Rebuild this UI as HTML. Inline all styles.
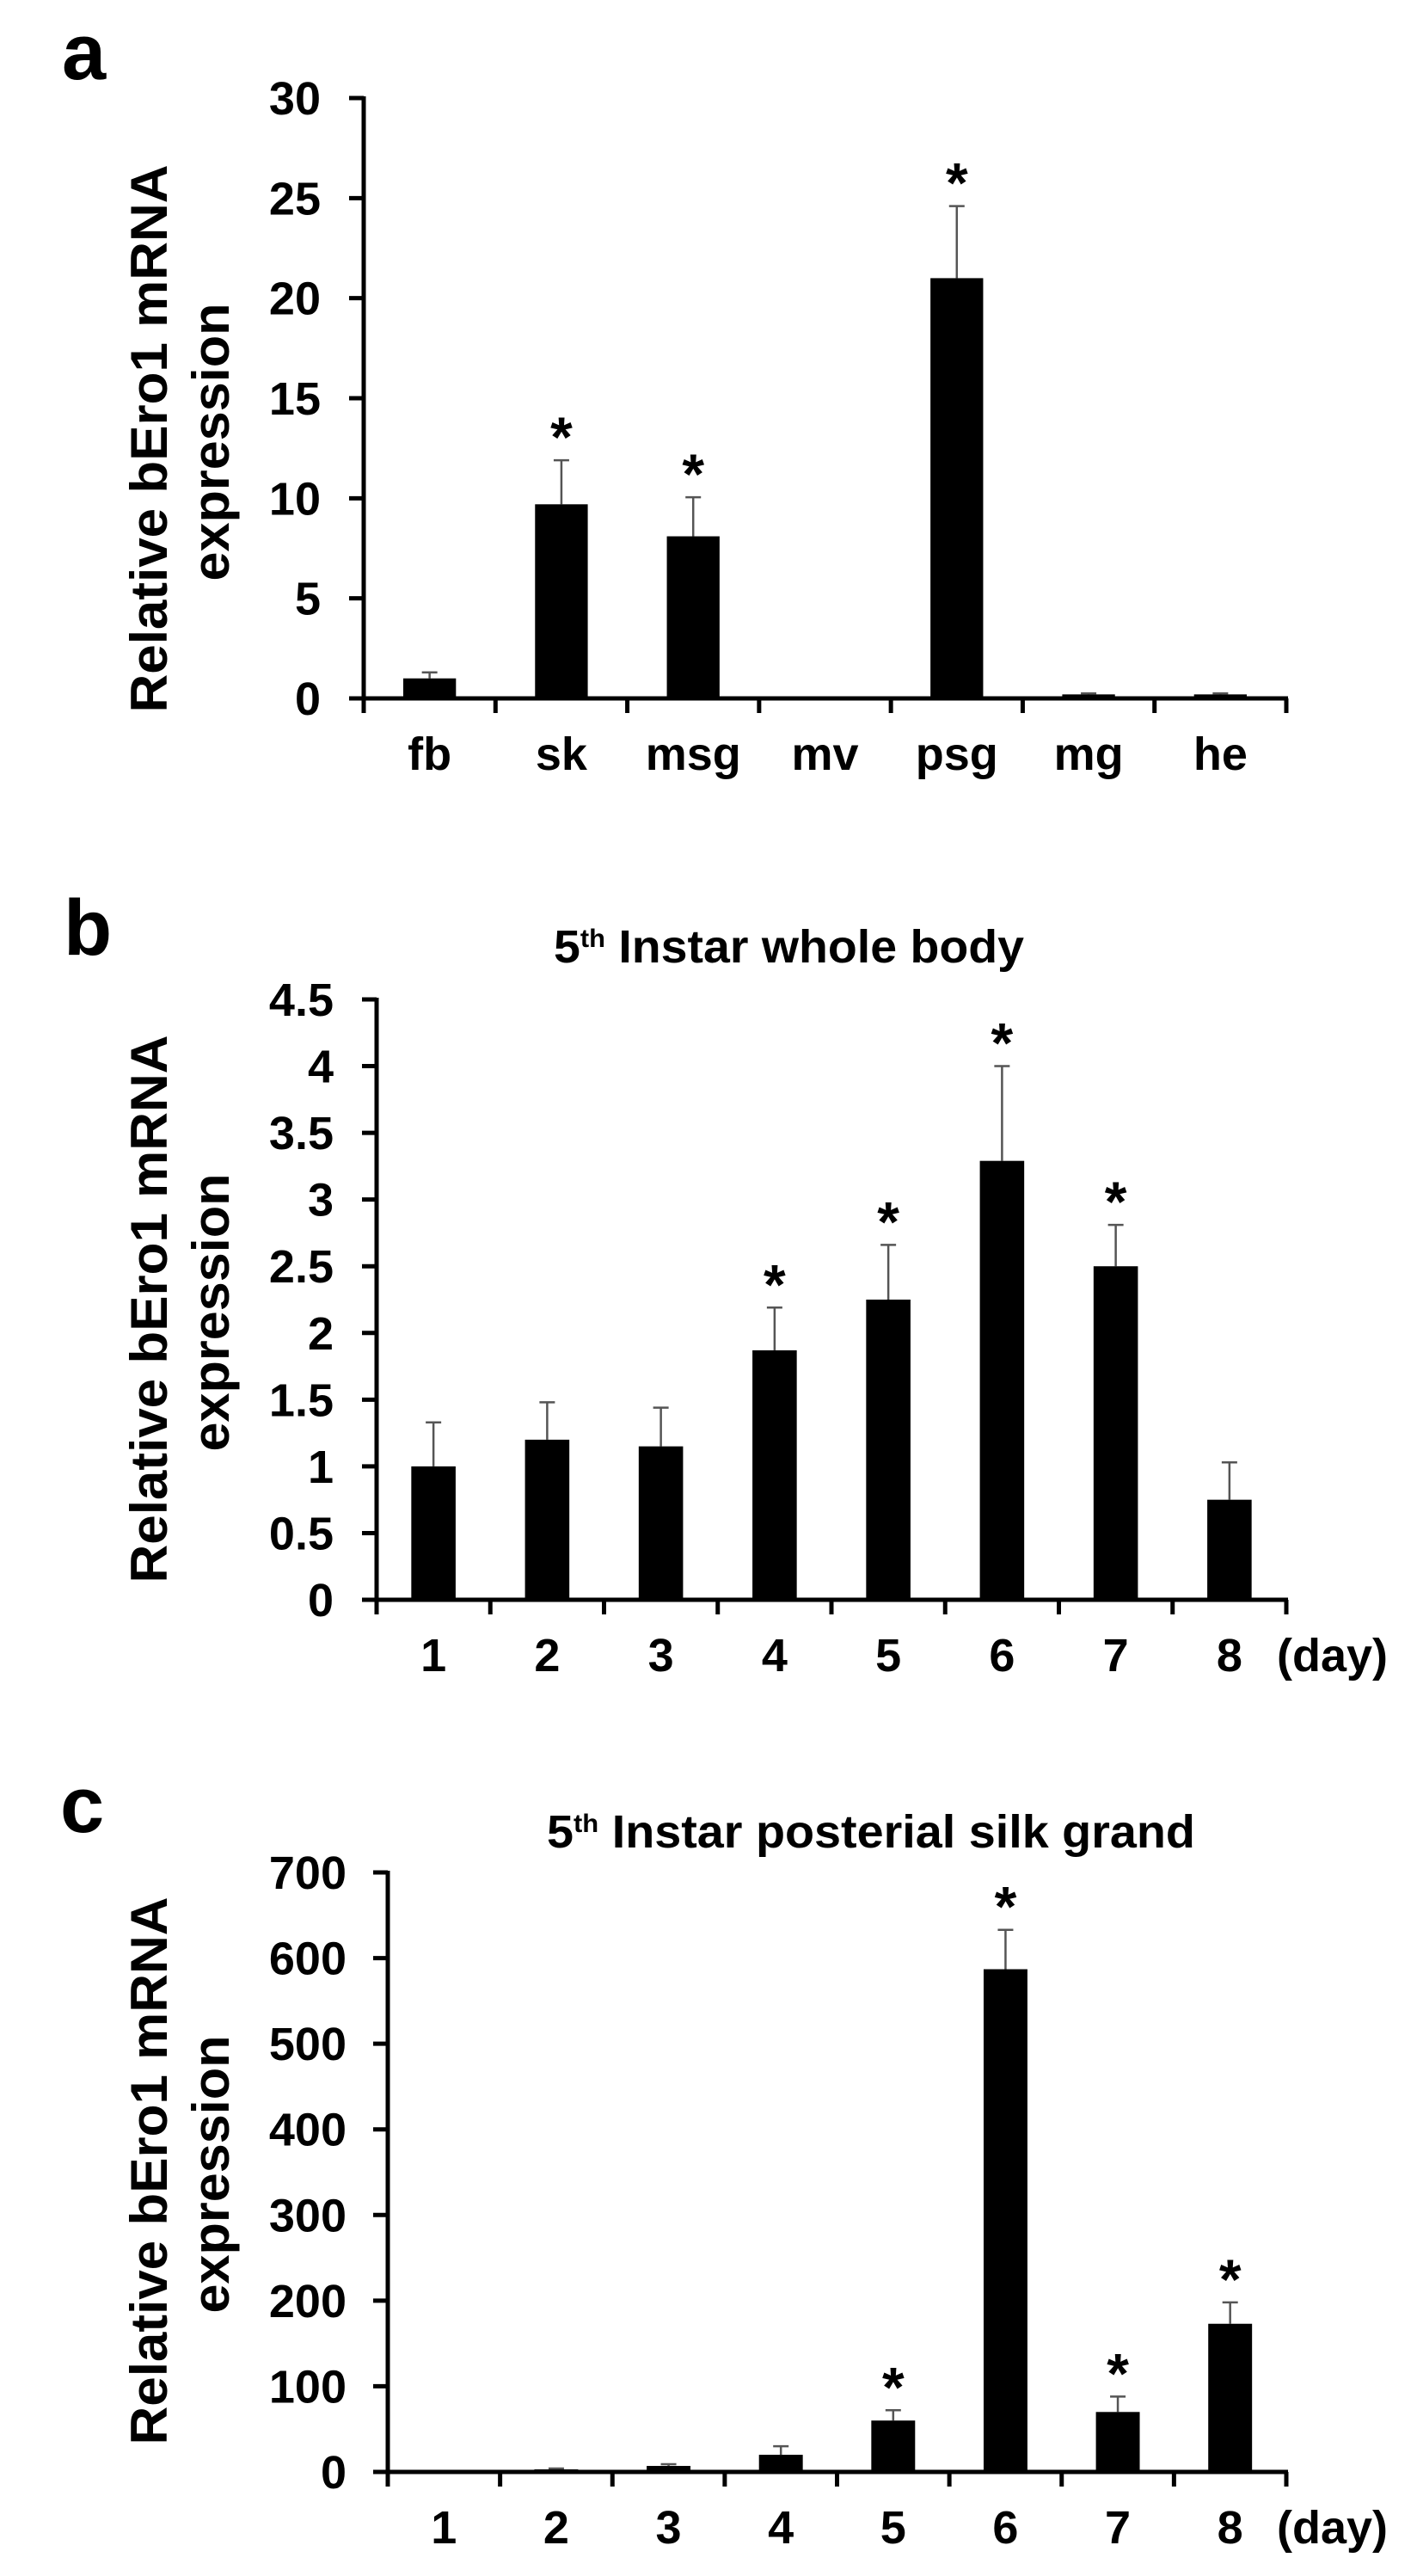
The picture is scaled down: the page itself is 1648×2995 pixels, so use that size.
<!DOCTYPE html>
<html><head><meta charset="utf-8">
<style>
html,body{margin:0;padding:0;background:#fff;}
svg{display:block;}
.tick{font-family:"Liberation Sans Narrow","Liberation Sans",sans-serif;font-weight:bold;font-size:54px;fill:#000;}
.ytitle{font-family:"Liberation Sans",sans-serif;font-weight:bold;font-size:60px;fill:#000;}
.plabel{font-family:"Liberation Sans",sans-serif;font-weight:bold;font-size:92px;fill:#000;}
.star{font-family:"Liberation Sans",sans-serif;font-weight:bold;font-size:66px;fill:#000;}
</style></head>
<body>
<svg id="fig" width="1648" height="2995" viewBox="0 0 1648 2995" xmlns="http://www.w3.org/2000/svg"></svg>
<script>
// Panel a data
const catsA = ["fb","sk","msg","mv","psg","mg","he"];
const valsA = [1.0, 9.7, 8.1, 0, 21.0, 0.2, 0.2];
const errA  = [0.3, 2.2, 1.95, 0, 3.6, 0.05, 0.05];
const starA = [false,true,true,false,true,false,false];
const ticksA = [0,5,10,15,20,25,30];
// Panel b data
const catsB = ["1","2","3","4","5","6","7","8"];
const valsB = [1.0, 1.2, 1.15, 1.87, 2.25, 3.29, 2.5, 0.75];
const errB  = [0.33, 0.28, 0.29, 0.32, 0.41, 0.71, 0.31, 0.28];
const starB = [false,false,false,true,true,true,true,false];
const ticksB = [0,0.5,1,1.5,2,2.5,3,3.5,4,4.5];
// Panel c data
const catsC = ["1","2","3","4","5","6","7","8"];
const valsC = [0.5, 3, 7, 20, 60, 587, 70, 173];
const errC  = [0, 1, 2, 10, 12, 46, 18, 25];
const starC = [false,false,false,false,true,true,true,true];
const ticksC = [0,100,200,300,400,500,600,700];

const NS="http://www.w3.org/2000/svg";
const svg=document.getElementById('fig');
function mk(tag,attrs,parent){const e=document.createElementNS(NS,tag);for(const k in attrs)e.setAttribute(k,attrs[k]);(parent||svg).appendChild(e);return e;}

function panel(cfg){
  const g=mk('g',{});
  
  
  const {x0,x1,yTop,yZero,max,cats,vals,errs,stars,ticks}=cfg;
  const y=v=>yZero-(v/max)*(yZero-yTop);
  const step=(x1-x0)/cats.length;
  const bw=step*cfg.bwFrac;
  cats.forEach((c,i)=>{
    const cx=x0+step*(i+0.5);
    if(errs[i]>0){
      const el=mk('line',{x1:cx,x2:cx,y1:y(vals[i]),y2:y(vals[i]+errs[i]),stroke:'#555','stroke-width':2.5},g);
      
      
      const cap=mk('line',{x1:cx-9,x2:cx+9,y1:y(vals[i]+errs[i]),y2:y(vals[i]+errs[i]),stroke:'#555','stroke-width':2.5},g);
      
      
    }
    const b=mk('rect',{x:cx-bw/2,y:y(vals[i]),width:bw,height:Math.max(0,yZero-y(vals[i])),fill:'#000'},g);
    
    
    if(stars[i]){
      const s=mk('text',{x:cx,y:y(vals[i]+errs[i])-4,'text-anchor':'middle',class:'star'},g);
      s.textContent='*';
      
      
    }
    const t=mk('text',{x:cx,y:cfg.labelY,'text-anchor':'middle',class:'tick'},g);
    t.textContent=c;
    
    
  });
  const ya=mk('line',{x1:x0,x2:x0,y1:yTop-2,y2:yZero+17,stroke:'#000','stroke-width':5},g);
  
  
  const xa=mk('line',{x1:x0-17,x2:x1+2,y1:yZero,y2:yZero,stroke:'#000','stroke-width':5},g);
  
  
  for(let i=1;i<=cats.length;i++){
    const xt=x0+step*i;
    const tk=mk('line',{x1:xt,x2:xt,y1:yZero,y2:yZero+17,stroke:'#000','stroke-width':5},g);
    
    
  }
  ticks.forEach(v=>{
    const tk=mk('line',{x1:x0-17,x2:x0,y1:y(v),y2:y(v),stroke:'#000','stroke-width':5},g);
    
    
    const tl=mk('text',{x:cfg.tickRight,y:y(v)+19,'text-anchor':'end',class:'tick'},g);
    tl.textContent=String(v);
    
    
  });
  const t1=mk('text',{x:0,y:0,'text-anchor':'middle',class:'ytitle',transform:`translate(194,${cfg.titleCy}) rotate(-90)`,textLength:637,lengthAdjust:'spacingAndGlyphs'},g);
  t1.textContent='Relative  bEro1 mRNA';
  
  
  const t2=mk('text',{x:0,y:0,'text-anchor':'middle',class:'ytitle',transform:`translate(266,${cfg.titleCy+4}) rotate(-90)`,textLength:323,lengthAdjust:'spacingAndGlyphs'},g);
  t2.textContent='expression';
  
  
  const pl=mk('text',{x:cfg.plx,y:cfg.ply,class:'plabel'},g);
  pl.textContent=cfg.letter;
  
  
  if(cfg.title){
    const tt=mk('text',{x:cfg.title.x,y:cfg.title.y,class:'tick','font-size':50,textLength:cfg.title.w,lengthAdjust:'spacingAndGlyphs'},g);
    
    
    const a=mk('tspan',{},tt);a.textContent='5';
    const b=mk('tspan',{dy:-18,'font-size':30},tt);b.textContent='th';
    const c=mk('tspan',{dy:18},tt);c.textContent=' '+cfg.title.text;
  }
  if(cfg.day){
    const d=mk('text',{x:1485,y:cfg.labelY,class:'tick'},g);
    d.textContent='(day)';
    
    
  }
}

panel({name:'chart-a-tissues',letter:'a',plx:72,ply:92,x0:423,x1:1496,yTop:114,yZero:812,max:30,cats:catsA,vals:valsA,errs:errA,stars:starA,ticks:ticksA,bwFrac:0.4,labelY:895,tickRight:373,titleCy:510});
panel({name:'chart-b-whole-body',letter:'b',plx:74,ply:1110,x0:438,x1:1496,yTop:1162,yZero:1860,max:4.5,cats:catsB,vals:valsB,errs:errB,stars:starB,ticks:ticksB,bwFrac:0.39,labelY:1943,tickRight:388,titleCy:1522,day:true,title:{x:644,y:1119,w:547,text:'Instar whole  body'}});
panel({name:'chart-c-posterior-silk-gland',letter:'c',plx:70,ply:2130,x0:451,x1:1496,yTop:2177,yZero:2874,max:700,cats:catsC,vals:valsC,errs:errC,stars:starC,ticks:ticksC,bwFrac:0.39,labelY:2957,tickRight:403,titleCy:2524,day:true,title:{x:636,y:2148,w:754,text:'Instar posterial silk grand'}});
</script>
</body></html>
